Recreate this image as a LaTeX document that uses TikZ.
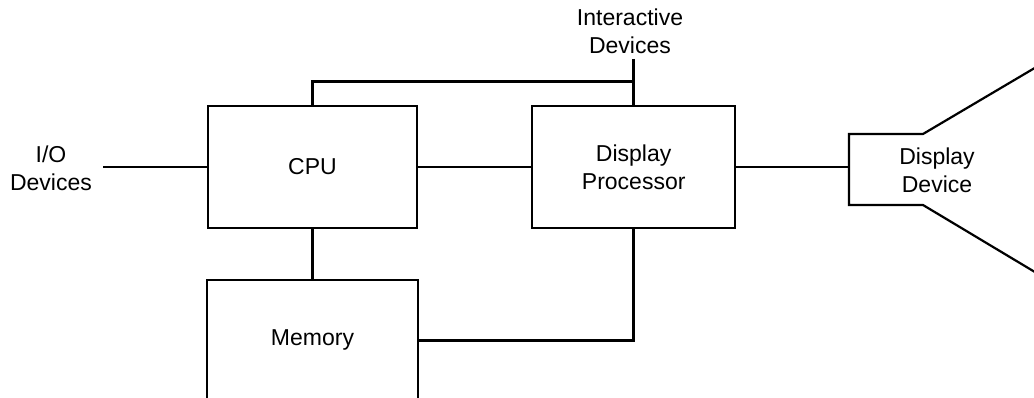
\documentclass[tikz,border=0pt]{standalone}
\usepackage{fontspec}
\setmainfont{Liberation Sans}
\usetikzlibrary{positioning}

\begin{document}
\begin{tikzpicture}[
    x=1pt, y=-1pt,
    unit/.style={rectangle, draw=black, line width=2.2pt, inner sep=0pt, align=center, font=\fontsize{23}{28}\selectfont},
    lbl/.style={inner sep=0pt, align=center, font=\fontsize{23}{28}\selectfont},
    conn/.style={line width=2.8pt, color=black}
]
\useasboundingbox (0,0) rectangle (1034,398);
\clip (0,0) rectangle (1034,398);

\node[unit, minimum width=209pt, minimum height=122pt] (cpu) at (312.5,167) {CPU};
\node[unit, minimum width=203pt, minimum height=122pt, right=113pt of cpu] (dproc) {Display\\Processor};
\node[unit, draw=none, minimum width=209pt, minimum height=118pt, below=51pt of cpu] (mem) {Memory};
\draw[line width=2.2pt] ([yshift=-30pt]mem.south west) -- (mem.north west) -- (mem.north east) -- ([yshift=-30pt]mem.south east);

\node[lbl, inner xsep=11pt] (io) at (51,168) {I/O\\Devices};
\node[lbl, inner ysep=5pt, anchor=south] (idev) at (630,59) {Interactive\\Devices};

% display device screen
\node[lbl] (ddev) at (937,170) {Display\\Device};
\coordinate (scr) at (849,167);
\draw[line width=2.2pt] (1044,62.5) -- (923,134) -- (849,134) -- (849,205) -- (923,205) -- (1044,277.5);

\draw[conn] (cpu.west) -- (cpu.west -| io.east);
\draw[conn] (cpu.east) -- (dproc.west);
\draw[conn] (cpu.south) -- (mem.north);
\draw[conn] (cpu.north) |- ([yshift=23pt]dproc.north);
\draw[conn] (idev.south -| dproc.north) -- (dproc.north);
\draw[conn] (dproc.east) -- (scr);
\draw[conn] (dproc.south) |- (mem.east);

\end{tikzpicture}
\end{document}
